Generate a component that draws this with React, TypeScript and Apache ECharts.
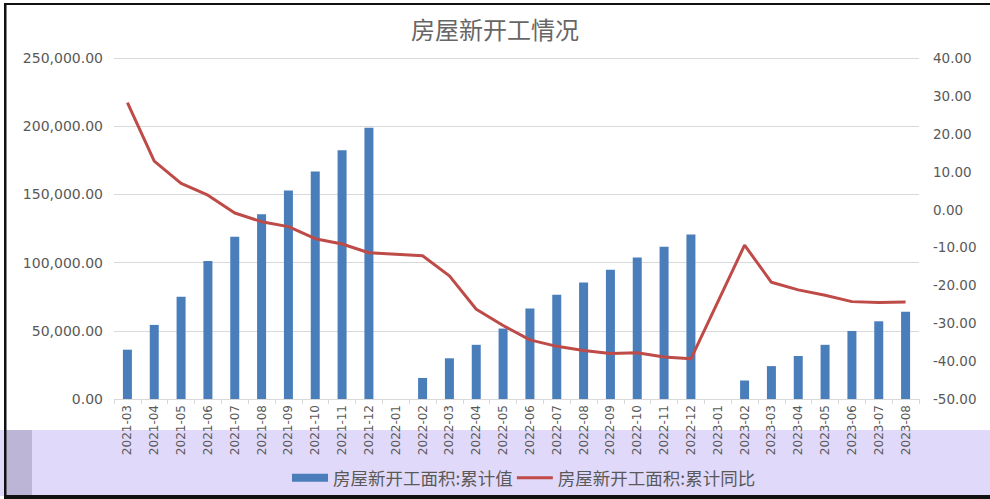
import React, { useEffect, useRef } from "react";
import * as echarts from "echarts";

const categories = [
  "2021-03", "2021-04", "2021-05", "2021-06", "2021-07", "2021-08", "2021-09", "2021-10", "2021-11", "2021-12",
  "2022-01", "2022-02", "2022-03", "2022-04", "2022-05", "2022-06", "2022-07", "2022-08", "2022-09", "2022-10", "2022-11", "2022-12",
  "2023-01", "2023-02", "2023-03", "2023-04", "2023-05", "2023-06", "2023-07", "2023-08",
];

const cumulativeArea: (number | null)[] = [
  36163, 54320, 74917, 101209, 118976, 135502, 152944, 166736, 182370, 198895,
  null, 15428, 29838, 39739, 51628, 66423, 76471, 85494, 94767, 103722, 111632, 120587,
  null, 13567, 24121, 31539, 39723, 49880, 56969, 63891,
];

const cumulativeYoY: (number | null)[] = [
  28.2, 12.8, 6.9, 3.8, -0.9, -3.2, -4.5, -7.7, -9.1, -11.4,
  null, -12.2, -17.5, -26.3, -30.6, -34.4, -36.1, -37.2, -38.0, -37.8, -38.9, -39.4,
  null, -9.4, -19.2, -21.2, -22.6, -24.3, -24.5, -24.4,
];

const leftTicks = { min: 0, max: 250000, interval: 50000 };
const rightTicks = { min: -50, max: 40, interval: 10 };

const TITLE = "房屋新开工情况";
const BAR_NAME = "房屋新开工面积:累计值";
const LINE_NAME = "房屋新开工面积:累计同比";

export default function App() {
  const ref = useRef<HTMLDivElement>(null);
  useEffect(() => {
    if (!ref.current) return;
    const chart = echarts.init(ref.current, undefined, { renderer: "svg" });
    const numFont = "DejaVu Sans, Verdana, sans-serif";
    const cjkFont = "Noto Sans CJK SC, sans-serif";
    chart.setOption({
      animation: false,
      backgroundColor: "#ffffff",
      title: {
        text: TITLE,
        left: "center",
        top: 11,
        textStyle: { fontFamily: cjkFont, fontSize: 24, fontWeight: "normal", color: "#666666" },
      },
      legend: {
        left: 287,
        top: 464,
        itemWidth: 36,
        itemHeight: 8,
        itemGap: 4,
        symbolKeepAspect: true,
        textStyle: { fontFamily: cjkFont, fontSize: 17.5, color: "#595959" },
        data: [
          { name: BAR_NAME, icon: "rect" },
          { name: LINE_NAME, icon: "path://M0,0H40V3.2H0Z" },
        ],
      },
      grid: { left: 114, right: 71, top: 58, bottom: 100 },
      graphic: [
        { type: "rect", z: -10, shape: { x: 0, y: 430, width: 990, height: 66 }, style: { fill: "#e1d9fa" } },
        { type: "rect", z: -9, shape: { x: 6, y: 430, width: 26, height: 66 }, style: { fill: "#bdb5d6" } },
        { type: "rect", z: 10, shape: { x: 4, y: 3, width: 986, height: 2 }, style: { fill: "#111111" } },
        { type: "rect", z: 10, shape: { x: 4, y: 3, width: 2.5, height: 496 }, style: { fill: "#111111" } },
        { type: "rect", z: 10, shape: { x: 4, y: 495, width: 986, height: 4 }, style: { fill: "#111111" } },
      ],
      xAxis: {
        type: "category",
        data: categories,
        boundaryGap: true,
        axisLine: { show: true, lineStyle: { color: "#d9d9d9", width: 1 } },
        axisTick: { show: true, length: 5, lineStyle: { color: "#d9d9d9" } },
        axisLabel: {
          interval: 0,
          rotate: 90,
          margin: 6,
          fontFamily: numFont,
          fontSize: 12,
          color: "#595959",
        },
      },
      yAxis: [
        {
          type: "value",
          ...leftTicks,
          position: "left",
          axisLine: { show: false },
          axisTick: { show: false },
          splitLine: { show: true, lineStyle: { color: "#d9d9d9", width: 1 } },
          axisLabel: {
            margin: 11,
            fontFamily: numFont,
            fontSize: 14,
            color: "#595959",
            formatter: (v: number) =>
              v.toLocaleString("en-US", { minimumFractionDigits: 2, maximumFractionDigits: 2 }),
          },
        },
        {
          type: "value",
          ...rightTicks,
          position: "right",
          axisLine: { show: false },
          axisTick: { show: false },
          splitLine: { show: false },
          axisLabel: {
            margin: 14,
            fontFamily: numFont,
            fontSize: 13.5,
            color: "#595959",
            formatter: (v: number) => v.toFixed(2),
          },
        },
      ],
      series: [
        {
          name: BAR_NAME,
          type: "bar",
          yAxisIndex: 0,
          data: cumulativeArea,
          barWidth: 9,
          itemStyle: { color: "#4a7ebb" },
        },
        {
          name: LINE_NAME,
          type: "line",
          yAxisIndex: 1,
          data: cumulativeYoY,
          connectNulls: true,
          symbol: "none",
          showSymbol: false,
          lineStyle: { color: "#be4b48", width: 3 },
          itemStyle: { color: "#be4b48" },
        },
      ],
    });
    return () => chart.dispose();
  }, []);
  return (
    <div
      ref={ref}
      style={{ position: "fixed", left: 0, top: 0, width: 990, height: 499 }}
    />
  );
}
